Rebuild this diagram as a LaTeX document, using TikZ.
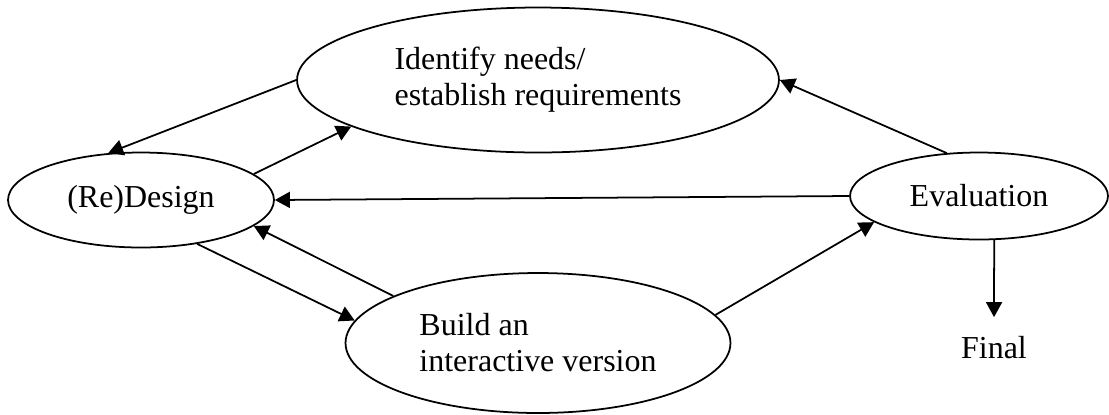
\documentclass[tikz,border=0pt]{standalone}
\usepackage{fontspec}
\setmainfont{Liberation Serif}
\usetikzlibrary{arrows.meta}
\usetikzlibrary{shapes.geometric}

\begin{document}
\begin{tikzpicture}[
		x=0.02cm, y=-0.02cm,
		stagenode/.style={
		% The shape:
		ellipse,
		% The border:
		draw=black,
		line width=1pt,
		% Font
		font=\fontsize{18.2}{20.5}\selectfont,
		align=left,
		inner sep=0pt
    		},
		labelnode/.style={
		font=\fontsize{18.2}{20.5}\selectfont
		},
		flowarrow/.style={-{Triangle[length=0.3cm,width=0.32cm]}, line width=1pt}
	]
	\useasboundingbox (0,0) rectangle (1109,414);

	\node (IDENT)[stagenode, minimum width=9.64cm, minimum height=2.9cm] at (538,80) {Identify needs/\\establish requirements};
	\node (DESIGN)[stagenode, minimum width=5.32cm, minimum height=1.9cm] at (141,200) {(Re)Design};
	\node (EVAL)[stagenode, minimum width=5.16cm, minimum height=1.74cm] at (979,196) {Evaluation};
	\node (BUILD)[stagenode, minimum width=7.7cm, minimum height=2.8cm] at (538,343) {Build an\\interactive version};
	\node (FINAL)[labelnode, anchor=base] at (994,358) {Final};

  	\draw [flowarrow] (IDENT.180) -- (DESIGN.125);
  	\draw [flowarrow] (DESIGN.13) -- (IDENT.194);
  	\draw [flowarrow] (EVAL.west) -- (DESIGN.east);
  	\draw [flowarrow] (BUILD.162) -- (DESIGN.347);
  	\draw [flowarrow] (DESIGN.322) -- (BUILD.173);
  	\draw [flowarrow] (BUILD.9) -- (EVAL.194);
  	\draw [flowarrow] (EVAL.127) -- (IDENT.0);
  	\draw [flowarrow, shorten >=0.25cm] (EVAL.289) -- (FINAL.north);
\end{tikzpicture}
\end{document}
